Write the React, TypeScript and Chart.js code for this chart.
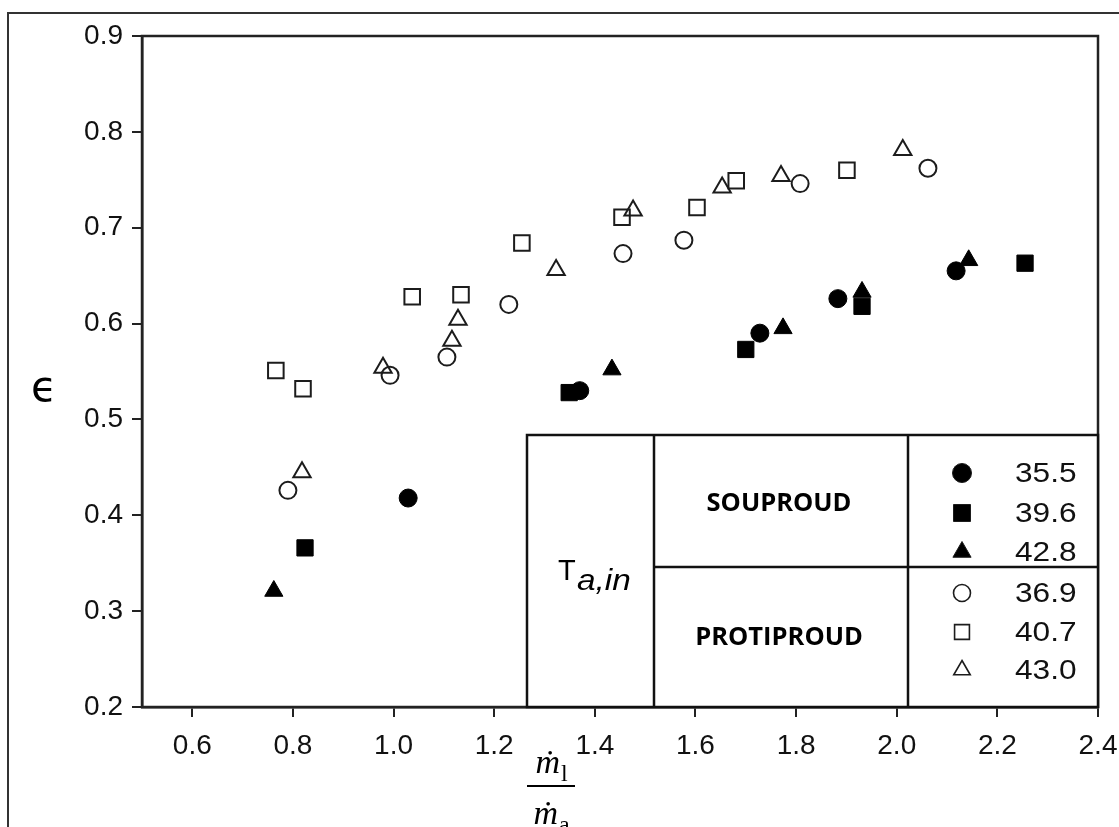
import React, { useEffect, useRef } from "react";
import { Chart, registerables } from "chart.js";

Chart.register(...registerables);

// ---- data ----
const xTickValues = [0.6, 0.8, 1.0, 1.2, 1.4, 1.6, 1.8, 2.0, 2.2, 2.4];
const yTickValues = [0.2, 0.3, 0.4, 0.5, 0.6, 0.7, 0.8, 0.9];

// SOUPROUD (filled)
const s355X = [1.029, 1.370, 1.728, 1.883, 2.118];
const s355Y = [0.418, 0.530, 0.590, 0.626, 0.655];
const s396X = [0.824, 1.349, 1.700, 1.931, 2.255];
const s396Y = [0.366, 0.528, 0.573, 0.618, 0.663];
const s428X = [0.762, 1.434, 1.774, 1.931, 2.143];
const s428Y = [0.321, 0.552, 0.595, 0.633, 0.666];

// PROTIPROUD (open)
const p369X = [0.790, 0.993, 1.106, 1.229, 1.456, 1.577, 1.808, 2.062];
const p369Y = [0.426, 0.546, 0.565, 0.620, 0.673, 0.687, 0.746, 0.762];
const p407X = [0.766, 0.820, 1.037, 1.134, 1.255, 1.454, 1.603, 1.681, 1.901];
const p407Y = [0.551, 0.532, 0.628, 0.630, 0.684, 0.711, 0.721, 0.749, 0.760];
const p430X = [0.818, 0.979, 1.116, 1.128, 1.323, 1.476, 1.653, 1.770, 2.012];
const p430Y = [0.445, 0.554, 0.582, 0.604, 0.656, 0.718, 0.742, 0.754, 0.781];

const seriesLabels = ["35.5", "39.6", "42.8", "36.9", "40.7", "43.0"];
const groupLabels = ["SOUPROUD", "PROTIPROUD"];

const zip = (xs: number[], ys: number[]) => xs.map((x, i) => ({ x, y: ys[i] }));

function drawMarker(
  ctx: CanvasRenderingContext2D,
  style: string,
  x: number,
  y: number,
  r: number,
  fill: boolean
) {
  ctx.beginPath();
  if (style === "circle") {
    ctx.arc(x, y, r, 0, Math.PI * 2);
  } else if (style === "rect") {
    const s = Math.SQRT1_2 * r;
    ctx.rect(x - s, y - s, 2 * s, 2 * s);
  } else {
    for (let k = 0; k < 3; k++) {
      const ang = -Math.PI / 2 + (k * 2 * Math.PI) / 3;
      const px = x + Math.cos(ang) * r;
      const py = y + Math.sin(ang) * r;
      if (k === 0) ctx.moveTo(px, py);
      else ctx.lineTo(px, py);
    }
    ctx.closePath();
  }
  if (fill) ctx.fill();
  ctx.stroke();
}

function stretchedText(
  ctx: CanvasRenderingContext2D,
  text: string,
  x: number,
  y: number,
  sx: number
) {
  ctx.save();
  ctx.translate(x, y);
  ctx.scale(sx, 1);
  ctx.fillText(text, 0, 0);
  ctx.restore();
}

export default function App() {
  const ref = useRef<HTMLCanvasElement | null>(null);

  useEffect(() => {
    if (!ref.current) return;
    const filled = (data: any[], style: string, r: number, label: string) => ({
      label,
      data,
      pointStyle: style,
      pointRadius: r,
      pointHoverRadius: r,
      backgroundColor: "#000",
      borderColor: "#000",
      borderWidth: 1,
      showLine: false,
    });
    const open = (data: any[], style: string, r: number, label: string) => ({
      label,
      data,
      pointStyle: style,
      pointRadius: r,
      pointHoverRadius: r,
      backgroundColor: "rgba(0,0,0,0)",
      borderColor: "#1c1c1c",
      borderWidth: 2,
      showLine: false,
    });

    const decor = {
      id: "decor",
      afterDraw(chart: any) {
        const ctx = chart.ctx as CanvasRenderingContext2D;
        const ca = chart.chartArea;
        ctx.save();
        // outer frame
        ctx.strokeStyle = "#333";
        ctx.lineWidth = 2;
        ctx.beginPath();
        ctx.moveTo(8, 827);
        ctx.lineTo(8, 13);
        ctx.lineTo(1119, 13);
        ctx.stroke();
        // plot box
        ctx.strokeStyle = "#222";
        ctx.lineWidth = 2.5;
        ctx.strokeRect(ca.left, ca.top, ca.right - ca.left, ca.bottom - ca.top);

        // y label epsilon
        ctx.fillStyle = "#000";
        ctx.font = "42px 'DejaVu Sans'";
        ctx.textAlign = "center";
        ctx.textBaseline = "middle";
        ctx.fillText("\u03F5", 44, 390);

        // x label fraction
        const cx = 551;
        ctx.textBaseline = "alphabetic";
        ctx.textAlign = "left";
        const drawM = (base: number, sub: string) => {
          ctx.font = "italic 34px 'Liberation Serif'";
          const w = ctx.measureText("\u1E41").width;
          ctx.font = "24px 'Liberation Serif'";
          const sw = ctx.measureText(sub).width;
          const start = cx - (w + sw) / 2;
          ctx.font = "italic 34px 'Liberation Serif'";
          ctx.fillText("\u1E41", start, base);
          ctx.font = "24px 'Liberation Serif'";
          ctx.fillText(sub, start + w + 1, base + 8);
        };
        drawM(773, "l");
        ctx.fillRect(527, 785, 48, 2);
        drawM(824, "a");

        // legend table
        const L = 527, T = 435, R = ca.right, B = ca.bottom;
        const d1 = 654, d2 = 908, hm = 567;
        ctx.fillStyle = "#fff";
        ctx.fillRect(L, T, R - L, B - T);
        ctx.strokeStyle = "#111";
        ctx.lineWidth = 2.5;
        ctx.strokeRect(L, T, R - L, B - T);
        ctx.beginPath();
        ctx.moveTo(d1, T); ctx.lineTo(d1, B);
        ctx.moveTo(d2, T); ctx.lineTo(d2, B);
        ctx.moveTo(d1, hm); ctx.lineTo(R, hm);
        ctx.stroke();

        // T a,in
        ctx.fillStyle = "#000";
        ctx.textAlign = "left";
        ctx.textBaseline = "alphabetic";
        ctx.font = "29px 'Liberation Sans'";
        ctx.fillText("T", 558, 580);
        ctx.font = "italic 29px 'Liberation Sans'";
        stretchedText(ctx, "a,in", 577, 590, 1.15);

        // group labels
        ctx.textAlign = "center";
        ctx.textBaseline = "middle";
        ctx.font = "bold 25.5px 'Open Sans'";
        ctx.fillText(groupLabels[0], 779, 504);
        ctx.fillText(groupLabels[1], 779, 638);

        // legend entries
        const rows = [473, 513, 552, 593, 632, 670];
        const mx = 962;
        rows.forEach((ry, i) => {
          const style = ["circle", "rect", "triangle"][i % 3];
          const isFilled = i < 3;
          const r = isFilled ? [9.5, 12, 10.5][i % 3] : [8.5, 10.5, 9.5][i % 3];
          ctx.save();
          ctx.lineWidth = isFilled ? 1 : 1.6;
          ctx.strokeStyle = "#1c1c1c";
          ctx.fillStyle = "#000";
          drawMarker(ctx, style, mx, ry, r, isFilled);
          ctx.restore();
          ctx.fillStyle = "#111";
          ctx.font = "28px 'Liberation Sans'";
          ctx.textAlign = "left";
          ctx.textBaseline = "middle";
          stretchedText(ctx, seriesLabels[i], 1015, ry + 1, 1.13);
        });
        ctx.restore();
      },
    };

    const chart = new Chart(ref.current, {
      type: "scatter",
      data: {
        datasets: [
          filled(zip(s355X, s355Y), "circle", 9, seriesLabels[0]),
          filled(zip(s396X, s396Y), "rect", 11.5, seriesLabels[1]),
          filled(zip(s428X, s428Y), "triangle", 10.5, seriesLabels[2]),
          open(zip(p369X, p369Y), "circle", 8.5, seriesLabels[3]),
          open(zip(p407X, p407Y), "rect", 11, seriesLabels[4]),
          open(zip(p430X, p430Y), "triangle", 10, seriesLabels[5]),
        ] as any,
      },
      options: {
        responsive: false,
        animation: false,
        layout: { padding: { top: 36, right: 21, left: 0, bottom: 0 } },
        plugins: { legend: { display: false }, tooltip: { enabled: false } },
        scales: {
          x: {
            type: "linear",
            min: 0.5,
            max: 2.4,
            afterBuildTicks: (s: any) => {
              s.ticks = xTickValues.map((v) => ({ value: v }));
            },
            afterFit: (s: any) => {
              s.height = 120;
              s.paddingRight = 0;
              s.paddingLeft = 0;
            },
            ticks: {
              font: { family: "'Liberation Sans'", size: 28 },
              color: "#111",
              padding: 12,
              maxRotation: 0,
              autoSkip: false,
              callback: (v: any) => Number(v).toFixed(1),
            },
            grid: {
              drawOnChartArea: false,
              drawTicks: true,
              tickLength: 10,
              color: "#222",
              lineWidth: 2,
            },
            border: { display: true, color: "#222", width: 2.5 },
          },
          y: {
            type: "linear",
            min: 0.2,
            max: 0.9,
            afterBuildTicks: (s: any) => {
              s.ticks = yTickValues.map((v) => ({ value: v }));
            },
            afterFit: (s: any) => {
              s.width = 142;
              s.paddingTop = 0;
              s.paddingBottom = 0;
            },
            ticks: {
              font: { family: "'Liberation Sans'", size: 28 },
              color: "#111",
              padding: 9,
              autoSkip: false,
              callback: (v: any) => Number(v).toFixed(1),
            },
            grid: {
              drawOnChartArea: false,
              drawTicks: true,
              tickLength: 10,
              color: "#222",
              lineWidth: 2,
            },
            border: { display: true, color: "#222", width: 2.5 },
          },
        },
      },
      plugins: [decor],
    });
    return () => chart.destroy();
  }, []);

  return (
    <div style={{ position: "fixed", left: 0, top: 0, width: 1119, height: 827, background: "#fff" }}>
      <canvas ref={ref} width={1119} height={827} style={{ width: 1119, height: 827, display: "block" }} />
    </div>
  );
}
